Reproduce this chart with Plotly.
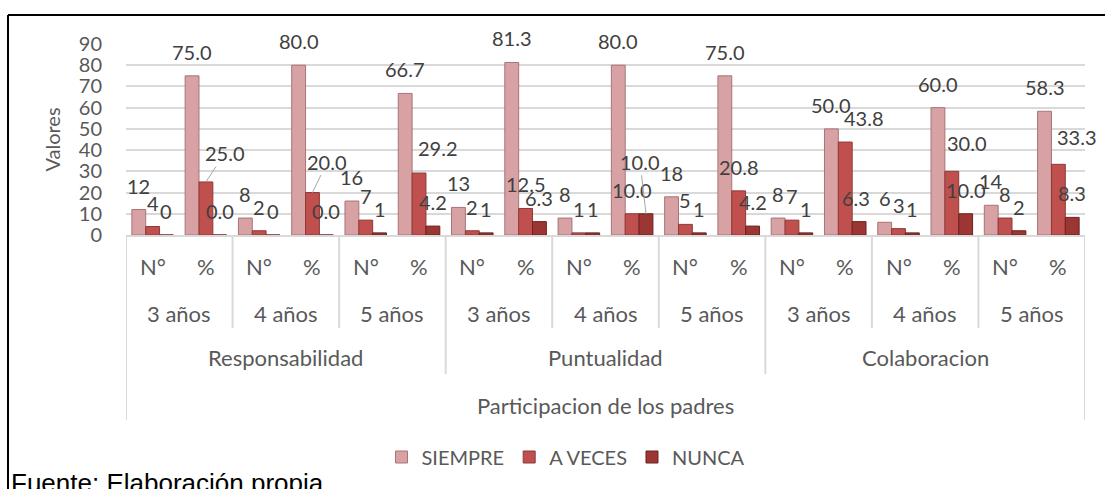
import plotly.graph_objects as go

# -- Data --
groups = ["Responsabilidad", "Puntualidad", "Colaboracion"]
ages = ["3 años", "4 años", "5 años"]
measures = ["N°", "%"]
series_names = ["SIEMPRE", "A VECES", "NUNCA"]

siempre = [12, 75.0, 8, 80.0, 16, 66.7, 13, 81.3, 8, 80.0, 18, 75.0, 8, 50.0, 6, 60.0, 14, 58.3]
a_veces = [4, 25.0, 2, 20.0, 7, 29.2, 2, 12.5, 1, 10.0, 5, 20.8, 7, 43.8, 3, 30.0, 8, 33.3]
nunca = [0, 0.0, 0, 0.0, 1, 4.2, 1, 6.3, 1, 10.0, 1, 4.2, 1, 6.3, 1, 10.0, 2, 8.3]

y_ticks = list(range(0, 100, 10))
y_title = "Valores"
x_title = "Participacion de los padres"
source_note = "Fuente: Elaboración propia"

# -- Design --
COLORS = {
    "fill": ["#D8A2A4", "#C0504D", "#9C3633"],
    "edge": ["#A87476", "#8E3937", "#6B2220"],
    "text": "#595959",
    "label": "#404040",
    "grid": "#D9D9D9",
}
FONT = "Lato, Carlito, Calibri, sans-serif"
FIG_W, FIG_H = 1105, 489
M_L, M_R, M_T, M_B = 126, 20, 44, 254
PLOT_W = FIG_W - M_L - M_R
PLOT_H = FIG_H - M_T - M_B
BARGAP = 0.22


def paper_x(px):
    return (px - M_L) / PLOT_W


def paper_y(py):
    return (FIG_H - M_B - py) / PLOT_H


# manual label nudges (category, series) -> (dx, extra dy, leader line)
NUDGE = {
    (1, 1): (19, -5, True),
    (3, 1): (15, -7, True),
    (9, 2): (-6, -28, True),
    (5, 1): (19, -1, False),
    (13, 1): (19, 0, False),
    (15, 1): (15, -4, False),
    (17, 1): (19, -3, False),
    (13, 2): (-3, 0, False),
}

n_cat = len(groups) * len(ages) * len(measures)
idx = list(range(n_cat))
cat_measure = [measures[i % len(measures)] for i in idx]
series_vals = [siempre, a_veces, nunca]

fig = go.Figure()
for k, (name, vals) in enumerate(zip(series_names, series_vals)):
    fig.add_trace(
        go.Bar(
            x=idx,
            y=vals,
            name=name,
            marker={"color": COLORS["fill"][k], "line": {"color": COLORS["edge"][k], "width": 1}},
            hovertemplate=f"<b>{name}</b><br>%{{y}}<extra></extra>",
        )
    )

annotations = []
bar_w = (1 - BARGAP) / len(series_names)

# data labels
for k, vals in enumerate(series_vals):
    for i, v in enumerate(vals):
        txt = f"{v:.0f}" if cat_measure[i] == "N°" else f"{v:.1f}"
        dx, dy, leader = NUDGE.get((i, k), (0, 0, False))
        ann = dict(
            x=i + (k - 1) * bar_w,
            y=v,
            xref="x",
            yref="y",
            text=txt,
            font={"size": 20, "color": COLORS["label"], "family": FONT},
        )
        if leader:
            ann.update(showarrow=True, ax=dx, ay=-24 + dy, arrowhead=0,
                       arrowwidth=1, arrowcolor="#A6A6A6", standoff=0)
        else:
            ann.update(showarrow=False, xshift=dx, yshift=24 - dy, yanchor="middle")
        annotations.append(ann)

# multi-level category labels
lab_font = {"size": 22, "color": COLORS["text"], "family": FONT}
for i in idx:
    annotations.append(dict(x=i, y=paper_y(266), xref="x", yref="paper", text=cat_measure[i],
                            showarrow=False, font=lab_font, yanchor="middle"))
n_m = len(measures)
for j in range(len(groups) * len(ages)):
    annotations.append(dict(x=j * n_m + (n_m - 1) / 2, y=paper_y(313), xref="x", yref="paper",
                            text=ages[j % len(ages)], showarrow=False, font=lab_font, yanchor="middle"))
n_g = len(ages) * n_m
for g, gname in enumerate(groups):
    annotations.append(dict(x=g * n_g + (n_g - 1) / 2, y=paper_y(358), xref="x", yref="paper",
                            text=gname, showarrow=False, font=lab_font, yanchor="middle"))
annotations.append(dict(x=(n_cat - 1) / 2, y=paper_y(405), xref="x", yref="paper", text=x_title,
                        showarrow=False, font=lab_font, yanchor="middle"))
annotations.append(dict(x=paper_x(9), y=paper_y(466), xref="paper", yref="paper", text=source_note,
                        showarrow=False, xanchor="left", yanchor="top",
                        font={"size": 26, "color": "black", "family": "Arial, Liberation Sans"}))

# separators of the category axis
shapes = []
sep_style = {"color": COLORS["grid"], "width": 2}
for b in range(0, n_cat + 1, n_m):
    if b in (0, n_cat):
        bottom = 420
    elif b % n_g == 0:
        bottom = 374
    else:
        bottom = 328
    shapes.append(dict(type="line", xref="x", yref="paper", x0=b - 0.5, x1=b - 0.5,
                       y0=0, y1=paper_y(bottom), line=sep_style))

# outer frame
frame = {"color": "black", "width": 2}
shapes.append(dict(type="line", xref="paper", yref="paper", x0=paper_x(8), x1=paper_x(FIG_W),
                   y0=paper_y(15), y1=paper_y(15), line=frame))
shapes.append(dict(type="line", xref="paper", yref="paper", x0=paper_x(8), x1=paper_x(8),
                   y0=paper_y(15), y1=paper_y(FIG_H), line=frame))

fig.update_layout(
    width=FIG_W,
    height=FIG_H,
    margin={"l": M_L, "r": M_R, "t": M_T, "b": M_B},
    plot_bgcolor="white",
    paper_bgcolor="white",
    font={"family": FONT, "size": 20, "color": COLORS["text"]},
    barmode="group",
    bargap=BARGAP,
    bargroupgap=0,
    showlegend=True,
    legend={
        "orientation": "h",
        "x": paper_x(566),
        "xanchor": "center",
        "y": paper_y(457),
        "yanchor": "middle",
        "font": {"size": 20, "color": COLORS["text"], "family": FONT},
        "itemwidth": 30,
    },
    annotations=annotations,
    shapes=shapes,
)
fig.update_xaxes(
    range=[-0.5, n_cat - 0.5],
    showticklabels=False,
    showgrid=False,
    zeroline=False,
    showline=True,
    linecolor=COLORS["grid"],
    linewidth=2,
    ticks="",
)
fig.update_yaxes(
    range=[0, 90],
    tickvals=y_ticks,
    showgrid=True,
    gridcolor=COLORS["grid"],
    gridwidth=1.5,
    zeroline=False,
    showline=False,
    ticks="outside",
    ticklen=19,
    tickcolor="rgba(0,0,0,0)",
    tickfont={"size": 20, "color": COLORS["text"], "family": FONT},
    title={"text": y_title, "standoff": 12, "font": {"size": 20, "color": COLORS["text"], "family": FONT}},
)

# the page body has a default margin; drop it so the figure sits at the window corner
fig.write_html(
    "out.html",
    config={"displayModeBar": False},
    post_script="document.body.style.margin='0';",
)
